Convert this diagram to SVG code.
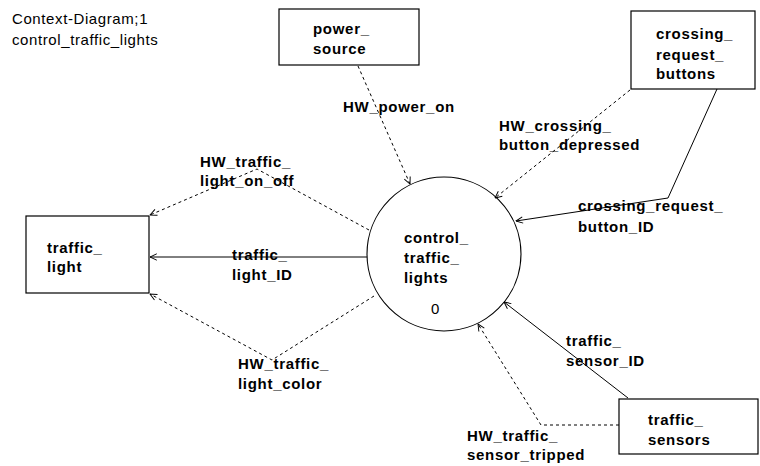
<svg xmlns="http://www.w3.org/2000/svg" width="760" height="466" viewBox="0 0 760 466">
  <style>
    .bg { fill: #ffffff; }
    .box { fill: #ffffff; stroke: #000000; stroke-width: 1.2; }
    .proc { fill: none; stroke: #000000; stroke-width: 1.1; }
    .flow { fill: none; stroke: #000000; stroke-width: 1; marker-end: url(#arrow); }
    .ctl { stroke-dasharray: 3 3; }
    text { font-family: "Liberation Sans", Arial, Helvetica, sans-serif; font-size: 15px; fill: #000000; }
    .lbl { font-weight: bold; letter-spacing: 0.7px; }
    .ttl { letter-spacing: 0.6px; }
  </style>
  <defs>
    <marker id="arrow" viewBox="0 0 10 10" refX="9.5" refY="5" markerWidth="8" markerHeight="8" markerUnits="userSpaceOnUse" orient="auto">
      <path d="M1,1 L9.5,5 L1,9" fill="none" stroke="#000000" stroke-width="1.2" stroke-dasharray="none"/>
    </marker>
  </defs>

  <rect class="bg" x="0" y="0" width="760" height="466"/>

  <!-- diagram heading -->
  <g id="heading">
    <text class="ttl" x="12" y="24">Context-Diagram;1</text>
    <text class="ttl" x="12" y="45">control_traffic_lights</text>
  </g>

  <!-- central process -->
  <g id="control_traffic_lights">
    <circle class="proc" cx="444" cy="254" r="77"/>
    <text class="lbl" x="404" y="243">control_</text>
    <text class="lbl" x="404" y="263">traffic_</text>
    <text class="lbl" x="404" y="283">lights</text>
    <text x="431" y="314">0</text>
  </g>

  <!-- data and control flows -->
  <g id="connectors">
    <path class="flow ctl" d="M358,66 L410,184"/>
    <path class="flow ctl" d="M630,90 L495,198"/>
    <path class="flow" d="M717,89 L668,198 L516,221"/>
    <path class="flow ctl" d="M369,230 L257,169 L150,215"/>
    <path class="flow" d="M367,257 L150,257"/>
    <path class="flow ctl" d="M374,296 L272,360 L150,294"/>
    <path class="flow" d="M628,398 L504,302"/>
    <path class="flow ctl" d="M619,425 L541,425 L478,324"/>

    <text class="lbl" x="343" y="112">HW_power_on</text>
    <text class="lbl" x="499" y="131">HW_crossing_</text>
    <text class="lbl" x="499" y="150">button_depressed</text>
    <text class="lbl" x="578" y="211">crossing_request_</text>
    <text class="lbl" x="578" y="232">button_ID</text>
    <text class="lbl" x="200" y="167">HW_traffic_</text>
    <text class="lbl" x="200" y="186">light_on_off</text>
    <text class="lbl" x="232" y="260">traffic_</text>
    <text class="lbl" x="232" y="280">light_ID</text>
    <text class="lbl" x="238" y="369">HW_traffic_</text>
    <text class="lbl" x="238" y="389">light_color</text>
    <text class="lbl" x="566" y="346">traffic_</text>
    <text class="lbl" x="566" y="366">sensor_ID</text>
    <text class="lbl" x="467" y="441">HW_traffic_</text>
    <text class="lbl" x="467" y="460">sensor_tripped</text>
  </g>

  <!-- terminators -->
  <g id="power_source">
    <rect class="box" x="279" y="9" width="140" height="56"/>
    <text class="lbl" x="313" y="34">power_</text>
    <text class="lbl" x="313" y="54">source</text>
  </g>

  <g id="crossing_request_buttons">
    <rect class="box" x="631" y="11" width="124" height="78"/>
    <text class="lbl" x="656" y="39">crossing_</text>
    <text class="lbl" x="656" y="60">request_</text>
    <text class="lbl" x="656" y="79">buttons</text>
  </g>

  <g id="traffic_light">
    <rect class="box" x="26" y="216" width="123" height="77"/>
    <text class="lbl" x="47" y="253">traffic_</text>
    <text class="lbl" x="47" y="272">light</text>
  </g>

  <g id="traffic_sensors">
    <rect class="box" x="619" y="399" width="139" height="55"/>
    <text class="lbl" x="648" y="425">traffic_</text>
    <text class="lbl" x="648" y="445">sensors</text>
  </g>
</svg>
